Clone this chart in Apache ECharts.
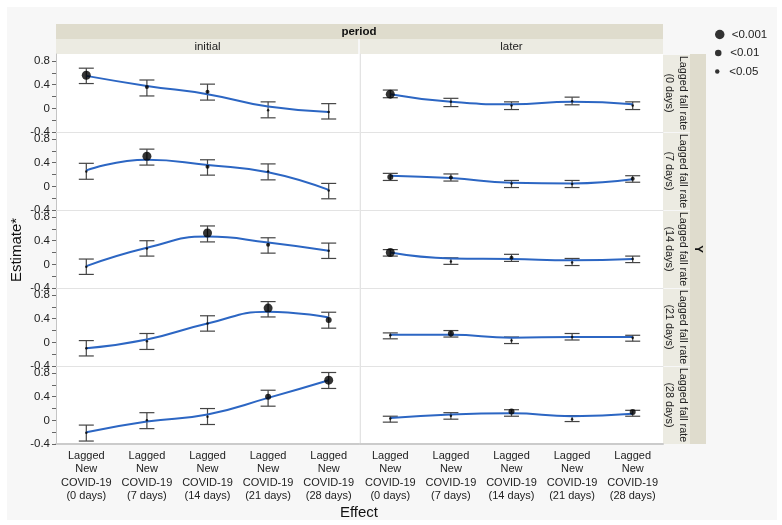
<!DOCTYPE html>
<html>
<head>
<meta charset="utf-8">
<title>Estimate by period</title>
<script src="https://cdn.jsdelivr.net/npm/echarts@6/dist/echarts.min.js"></script>
<style>
html, body { margin: 0; padding: 0; background: #fff; }
#chart {
  width: 782px;
  height: 525px;
  background: linear-gradient(#f7f7f7, #f7f7f7) 7px 7px / 770px 513px no-repeat, #fff;
}
</style>
</head>
<body>
<div id="chart"></div>
<script>
const categories = [
  'Lagged\nNew\nCOVID-19\n(0 days)',
  'Lagged\nNew\nCOVID-19\n(7 days)',
  'Lagged\nNew\nCOVID-19\n(14 days)',
  'Lagged\nNew\nCOVID-19\n(21 days)',
  'Lagged\nNew\nCOVID-19\n(28 days)'
];
const periods = ['initial', 'later'];
const outcomes = [
  'Lagged fall rate\n(0 days)',
  'Lagged fall rate\n(7 days)',
  'Lagged fall rate\n(14 days)',
  'Lagged fall rate\n(21 days)',
  'Lagged fall rate\n(28 days)'
];
const labelValues = [-0.4, 0, 0.4, 0.8];
const tickValues = [-0.4, -0.2, 0, 0.2, 0.4, 0.6, 0.8];
const sigNames = ['ns', '<0.05', '<0.01', '<0.001'];

// initial period: one row per outcome, one value per effect
const estInitial = [
  [0.56, 0.36, 0.28, -0.03, -0.06],
  [0.25, 0.51, 0.33, 0.25, -0.07],
  [-0.04, 0.27, 0.53, 0.33, 0.23],
  [-0.10, 0.02, 0.32, 0.58, 0.38],
  [-0.21, 0.00, 0.06, 0.40, 0.68]
];
const lowInitial = [
  [0.42, 0.21, 0.14, -0.16, -0.18],
  [0.12, 0.36, 0.19, 0.11, -0.21],
  [-0.17, 0.14, 0.38, 0.19, 0.10],
  [-0.23, -0.12, 0.19, 0.43, 0.24],
  [-0.35, -0.14, -0.07, 0.24, 0.54]
];
const highInitial = [
  [0.68, 0.48, 0.41, 0.11, 0.08],
  [0.39, 0.63, 0.45, 0.38, 0.05],
  [0.09, 0.40, 0.65, 0.45, 0.36],
  [0.03, 0.15, 0.45, 0.69, 0.51],
  [-0.08, 0.13, 0.20, 0.51, 0.81]
];
const fitInitial = [
  [0.55, 0.38, 0.24, 0.03, -0.06],
  [0.27, 0.45, 0.36, 0.24, -0.06],
  [-0.03, 0.28, 0.47, 0.37, 0.23],
  [-0.10, 0.05, 0.32, 0.52, 0.42],
  [-0.20, -0.02, 0.10, 0.38, 0.68]
];
const sigInitial = [
  [3, 1, 1, 0, 0],
  [0, 3, 1, 0, 0],
  [0, 0, 3, 1, 0],
  [0, 0, 0, 3, 2],
  [0, 0, 0, 2, 3]
];

// later period
const estLater = [
  [0.24, 0.11, 0.05, 0.12, 0.05],
  [0.16, 0.15, 0.05, 0.04, 0.13],
  [0.20, 0.05, 0.11, 0.03, 0.09],
  [0.12, 0.15, 0.03, 0.09, 0.08],
  [0.03, 0.08, 0.15, 0.02, 0.14]
];
const lowLater = [
  [0.18, 0.03, -0.02, 0.06, -0.02],
  [0.10, 0.09, -0.02, -0.02, 0.07],
  [0.14, 0.00, 0.05, -0.02, 0.03],
  [0.06, 0.09, -0.02, 0.04, 0.02],
  [-0.03, 0.02, 0.07, -0.02, 0.07]
];
const highLater = [
  [0.31, 0.17, 0.11, 0.19, 0.11],
  [0.22, 0.21, 0.10, 0.10, 0.18],
  [0.25, 0.11, 0.17, 0.10, 0.14],
  [0.16, 0.20, 0.09, 0.15, 0.12],
  [0.07, 0.13, 0.18, 0.08, 0.17]
];
const fitLater = [
  [0.24, 0.11, 0.07, 0.11, 0.07],
  [0.18, 0.14, 0.06, 0.05, 0.12],
  [0.20, 0.10, 0.09, 0.07, 0.09],
  [0.13, 0.13, 0.08, 0.09, 0.09],
  [0.04, 0.10, 0.12, 0.07, 0.11]
];
const sigLater = [
  [3, 0, 0, 0, 0],
  [2, 1, 0, 0, 1],
  [3, 0, 1, 0, 0],
  [0, 2, 0, 0, 0],
  [0, 0, 2, 0, 2]
];

const est = [estInitial, estLater];
const low = [lowInitial, lowLater];
const high = [highInitial, highLater];
const fit = [fitInitial, fitLater];
const sig = [sigInitial, sigLater];

const FONT = '"Liberation Sans", Arial, sans-serif';
const dotSize = [2.5, 4, 6, 9];
const colLeft = [56, 360];
const colWidth = 303;
const rowTop = 54;
const rowHeight = 78;

const chart = echarts.init(document.getElementById('chart'));

const grids = [];
const xAxes = [];
const yAxes = [];
const series = [];

periods.forEach((p, c) => {
  outcomes.forEach((o, r) => {
    const gi = grids.length;
    const last = r === outcomes.length - 1;
    grids.push({
      left: colLeft[c],
      top: rowTop + r * rowHeight,
      width: colWidth,
      height: rowHeight,
      show: true,
      backgroundColor: '#fff',
      borderWidth: 0
    });
    xAxes.push({
      type: 'category',
      gridIndex: gi,
      data: categories,
      axisLine: { onZero: false, lineStyle: { color: last ? '#cbcbcb' : '#e3e3e3', width: last ? 2 : 1 } },
      axisTick: { show: false },
      axisLabel: {
        show: last,
        interval: 0,
        margin: 5,
        fontFamily: FONT,
        fontSize: 11,
        lineHeight: 13.5,
        color: '#222'
      }
    });
    yAxes.push({
      type: 'value',
      gridIndex: gi,
      min: -0.4,
      max: 0.92,
      splitLine: { show: false },
      axisLine: { show: true, lineStyle: { color: c === 0 ? '#c4c4c4' : '#e3e3e3' } },
      axisTick: {
        show: c === 0,
        customValues: tickValues,
        length: 4,
        lineStyle: { color: '#666' }
      },
      axisLabel: {
        show: c === 0,
        customValues: labelValues,
        margin: 6,
        fontFamily: FONT,
        fontSize: 11.5,
        color: '#222'
      }
    });

    // error bars
    series.push({
      type: 'custom',
      xAxisIndex: gi,
      yAxisIndex: gi,
      z: 1,
      silent: true,
      data: categories.map((cat, k) => [k, low[c][r][k], high[c][r][k]]),
      renderItem: (params, api) => {
        const x = api.value(0);
        const a = api.coord([x, api.value(1)]);
        const b = api.coord([x, api.value(2)]);
        const w = 7.5;
        const style = { stroke: '#444', lineWidth: 1.2 };
        return {
          type: 'group',
          children: [
            { type: 'line', shape: { x1: a[0], y1: a[1], x2: b[0], y2: b[1] }, style },
            { type: 'line', shape: { x1: a[0] - w, y1: a[1], x2: a[0] + w, y2: a[1] }, style },
            { type: 'line', shape: { x1: b[0] - w, y1: b[1], x2: b[0] + w, y2: b[1] }, style }
          ]
        };
      }
    });

    // fitted curve
    series.push({
      type: 'line',
      xAxisIndex: gi,
      yAxisIndex: gi,
      z: 2,
      smooth: true,
      showSymbol: false,
      silent: true,
      data: fit[c][r],
      lineStyle: { color: '#2c66c3', width: 2 }
    });

    // estimates, split by significance level
    sigNames.forEach((name, s) => {
      series.push({
        type: 'scatter',
        name: name,
        xAxisIndex: gi,
        yAxisIndex: gi,
        z: 3,
        symbolSize: dotSize[s],
        itemStyle: { color: '#000' },
        data: categories
          .map((cat, k) => [k, est[c][r][k], sig[c][r][k]])
          .filter(d => d[2] === s)
          .map(d => [d[0], d[1]])
      });
    });
  });
});

const legends = [3, 2, 1].map((s, i) => ({
  data: [sigNames[s]],
  left: 715,
  top: 28.5 + i * 18.5,
  icon: 'circle',
  itemWidth: 14,
  itemHeight: dotSize[s] + 0.5,
  selectedMode: false,
  textStyle: { fontFamily: FONT, fontSize: 11.5, color: '#222' },
  padding: 0
}));

const graphics = [];
// column header strips
graphics.push({
  type: 'rect', shape: { x: 56, y: 24, width: 607, height: 15 },
  style: { fill: '#dfdccd' }, silent: true
});
graphics.push({
  type: 'text', x: 359, y: 31.5,
  style: { text: 'period', fontFamily: FONT, fontSize: 11.5, fontWeight: 'bold', fill: '#111', align: 'center', verticalAlign: 'middle' },
  silent: true
});
periods.forEach((p, c) => {
  graphics.push({
    type: 'rect', shape: { x: colLeft[c], y: 39, width: c ? colWidth : colWidth - 1, height: 15 },
    style: { fill: '#ecebe2' }, silent: true
  });
  graphics.push({
    type: 'text', x: colLeft[c] + colWidth / 2, y: 46.5,
    style: { text: p, fontFamily: FONT, fontSize: 11.5, fill: '#222', align: 'center', verticalAlign: 'middle' },
    silent: true
  });
});
// row header strips
graphics.push({
  type: 'rect', shape: { x: 690, y: rowTop, width: 16, height: rowHeight * outcomes.length },
  style: { fill: '#dfdccd' }, silent: true
});
graphics.push({
  type: 'text', x: 698, y: rowTop + rowHeight * outcomes.length / 2, rotation: -Math.PI / 2,
  style: { text: 'Y', fontFamily: FONT, fontSize: 11.5, fontWeight: 'bold', fill: '#111', align: 'center', verticalAlign: 'middle' },
  silent: true
});
outcomes.forEach((o, r) => {
  graphics.push({
    type: 'rect', shape: { x: 663, y: rowTop + r * rowHeight + 1, width: 27, height: rowHeight - 1 },
    style: { fill: '#ecebe2' }, silent: true
  });
  graphics.push({
    type: 'text', x: 676, y: rowTop + r * rowHeight + rowHeight / 2, rotation: -Math.PI / 2,
    style: { text: o, fontFamily: FONT, fontSize: 10.8, lineHeight: 14, fill: '#222', align: 'center', verticalAlign: 'middle' },
    silent: true
  });
});
// axis titles
graphics.push({
  type: 'text', x: 17, y: 250, rotation: Math.PI / 2,
  style: { text: 'Estimate*', fontFamily: FONT, fontSize: 15, fill: '#111', align: 'center', verticalAlign: 'middle' },
  silent: true
});
graphics.push({
  type: 'text', x: 359, y: 513,
  style: { text: 'Effect', fontFamily: FONT, fontSize: 15, fill: '#111', align: 'center', verticalAlign: 'middle' },
  silent: true
});

chart.setOption({
  animation: false,
  textStyle: { fontFamily: FONT },
  grid: grids,
  xAxis: xAxes,
  yAxis: yAxes,
  legend: legends,
  graphic: graphics,
  series: series
});
</script>
</body>
</html>
